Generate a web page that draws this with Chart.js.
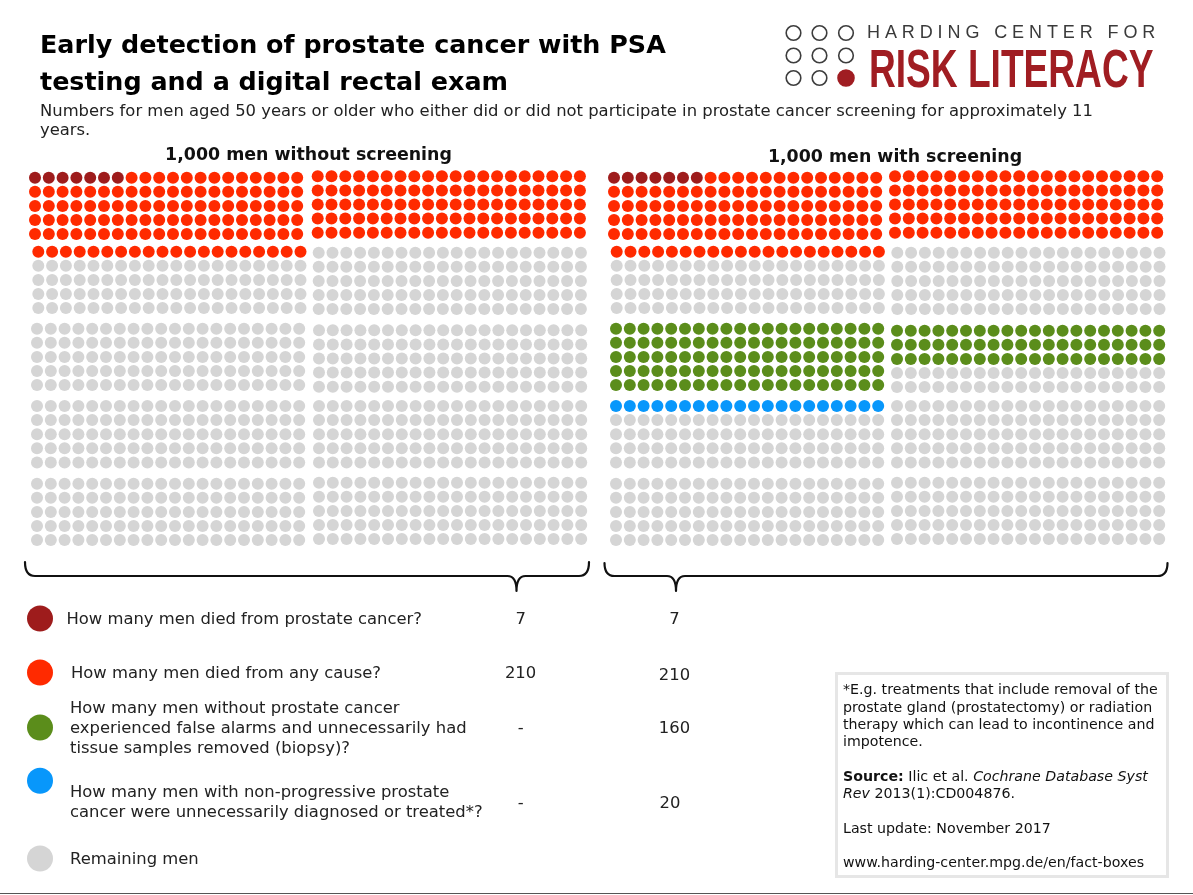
<!DOCTYPE html>
<html>
<head>
<meta charset="utf-8">
<script src="https://cdn.jsdelivr.net/npm/chart.js@4/dist/chart.umd.min.js"></script>
<style>
  html, body { margin:0; padding:0; background:#fff; }
  body { width:1193px; height:895px; position:relative; overflow:hidden; font-family:"DejaVu Sans", Verdana, sans-serif; color:#222; }
  #c { position:absolute; left:0; top:0; }
  .t { position:absolute; white-space:nowrap; }
  .title { left:40px; top:25.5px; font-weight:bold; font-size:25.4px; line-height:37px; color:#000; }
  .sub { left:40px; top:100.5px; font-size:16.4px; line-height:19px; color:#222; }
  .ph { font-weight:bold; font-size:17.4px; line-height:20px; width:400px; text-align:center; color:#111; }
  .lg { font-size:16.4px; line-height:20px; color:#222; }
  .val { font-size:16.4px; line-height:20px; width:80px; text-align:center; color:#222; }
  .box { position:absolute; left:835px; top:672px; width:328px; height:200px; border:3px solid #e6e6e6; }
  .note { left:843px; top:681.4px; font-size:14.2px; line-height:17.3px; color:#111; }
  .logo1 { left:867px; top:23px; font-family:"Liberation Sans", Arial, sans-serif; font-size:18px; line-height:18px; letter-spacing:4.9px; color:#3a3a3a; }
  .logo2 { left:869px; top:42px; font-family:"Liberation Sans", Arial, sans-serif; font-weight:bold; font-size:53px; line-height:53px; color:#a01d22; transform:scaleX(0.70); transform-origin:0 0; }
  .bottom { position:absolute; left:0; top:892.5px; width:1193px; height:1.5px; background:#555; }
</style>
</head>
<body>
<canvas id="c" width="1193" height="895"></canvas>

<div class="t title">Early detection of prostate cancer with PSA<br>testing and a digital rectal exam</div>
<div class="t sub">Numbers for men aged 50 years or older who either did or did not participate in prostate cancer screening for approximately 11<br>years.</div>
<div class="t ph" id="ph0" style="left:108.5px; top:144px;"></div>
<div class="t ph" id="ph1" style="left:695px; top:146px;"></div>

<div class="t logo1">HARDING CENTER FOR</div>
<div class="t logo2">RISK LITERACY</div>

<div id="legendText"></div>

<div class="box"></div>
<div class="t note">*E.g. treatments that include removal of the<br>prostate gland (prostatectomy) or radiation<br>therapy which can lead to incontinence and<br>impotence.<br><br><b>Source:</b> Ilic et al. <i>Cochrane Database Syst<br>Rev</i> 2013(1):CD004876.<br><br>Last update: November 2017<br><br>www.harding-center.mpg.de/en/fact-boxes</div>
<div class="bottom"></div>

<script>
// ---------------- DATA ----------------
const groups = ["1,000 men without screening", "1,000 men with screening"];
const categories = [
  "How many men died from prostate cancer?",
  "How many men died from any cause?",
  "How many men without prostate cancer\nexperienced false alarms and unnecessarily had\ntissue samples removed (biopsy)?",
  "How many men with non-progressive prostate\ncancer were unnecessarily diagnosed or treated*?",
  "Remaining men"
];
// values printed in the table
const reportedWithout = ["7", "210", "-", "-"];
const reportedWith    = ["7", "210", "160", "20"];
// dots as drawn in the icon arrays (dark red, red, green, blue); the rest are grey
const dotsWithout = [7, 213, 0, 0];
const dotsWith    = [7, 213, 160, 20];
const menPerGroup = 1000;

// ---------------- STYLE / LAYOUT ----------------
const colors = ["#9e1c1c", "#ff2a00", "#5b8d1b", "#0897fb", "#d5d5d5"];
// block where each category's dots begin (block = 20x5 dots; order: row-major over 2 columns)
const startBlock = [0, null, 4, 6];
const BLOCK_COLS = 20, BLOCK_ROWS = 5, DX = 13.8, DY = 14.1, DOT_R = 6;
const panelLayout = [
  { // without screening
    x: [[35, 317.7], [38.3, 318.7], [37, 319], [37, 319], [37, 319]],
    y: [[177.7, 176.3], [251.7, 252.7], [328.7, 330.3], [406, 406], [483.7, 482.7]]
  },
  { // with screening
    x: [[614, 895], [616.7, 897.3], [616, 897], [616, 897], [616, 897]],
    y: [[177.7, 176.3], [251.7, 252.7], [328.7, 330.7], [406, 406], [483.7, 482.7]]
  }
];

function dotPos(panel, idx) {
  const b = Math.floor(idx / 100), w = idx % 100;
  const br = Math.floor(b / 2), bc = b % 2;
  const r = Math.floor(w / BLOCK_COLS), c = w % BLOCK_COLS;
  const L = panelLayout[panel];
  return { x: L.x[br][bc] + c * DX, y: L.y[br][bc] + r * DY };
}

function colourIndex(counts) {
  const arr = new Array(menPerGroup).fill(4);
  let cursor = 0;
  counts.forEach((n, ci) => {
    if (startBlock[ci] !== null) cursor = Math.max(cursor, startBlock[ci] * 100);
    for (let k = 0; k < n; k++) arr[cursor + k] = ci;
    cursor += n;
  });
  return arr;
}

const datasets = [];
[dotsWithout, dotsWith].forEach((counts, p) => {
  const ci = colourIndex(counts);
  for (let cat = 0; cat < 5; cat++) {
    const pts = [];
    ci.forEach((v, i) => { if (v === cat) pts.push(dotPos(p, i)); });
    datasets.push({
      label: groups[p] + " - " + categories[cat],
      data: pts, pointRadius: DOT_R, pointHoverRadius: DOT_R,
      backgroundColor: colors[cat], borderWidth: 0, showLine: false
    });
  }
});

// legend markers
const legendY = [618.5, 672.5, 727.5, 780.8, 858.5];
datasets.push({
  label: "legend",
  data: legendY.map(y => ({ x: 40, y })),
  pointRadius: 13, pointHoverRadius: 13,
  pointBackgroundColor: colors, borderWidth: 0, showLine: false
});

// logo circles
const logoPts = [];
[793.5, 819.5, 846].forEach((x, i) => [33, 55.5, 78].forEach((y, j) => logoPts.push({ x, y, f: (i === 2 && j === 2) })));
datasets.push({
  label: "logo",
  data: logoPts,
  pointRadius: logoPts.map(p => p.f ? 8 : 7.3),
  pointBackgroundColor: logoPts.map(p => p.f ? "#a01d22" : "rgba(255,255,255,0)"),
  pointBorderColor: logoPts.map(p => p.f ? "#a01d22" : "#3d3d3d"),
  pointBorderWidth: 1.6, showLine: false
});

// braces
const braces = [
  { x0: 25, x1: 589, tip: 516.5, top: 562, line: 576, bottom: 591 },
  { x0: 604.5, x1: 1167.5, tip: 676, top: 563, line: 576, bottom: 591 }
];
const bracePlugin = {
  id: "braces",
  afterDatasetsDraw(chart) {
    const ctx = chart.ctx, xs = chart.scales.x, ys = chart.scales.y;
    ctx.save();
    ctx.strokeStyle = "#111"; ctx.lineWidth = 2.2; ctx.lineCap = "round"; ctx.lineJoin = "round";
    braces.forEach(b => {
      const X = v => xs.getPixelForValue(v), Y = v => ys.getPixelForValue(v);
      ctx.beginPath();
      ctx.moveTo(X(b.x0), Y(b.top));
      ctx.quadraticCurveTo(X(b.x0), Y(b.line), X(b.x0 + 10), Y(b.line));
      ctx.lineTo(X(b.tip - 9), Y(b.line));
      ctx.quadraticCurveTo(X(b.tip), Y(b.line), X(b.tip), Y(b.bottom));
      ctx.quadraticCurveTo(X(b.tip), Y(b.line), X(b.tip + 9), Y(b.line));
      ctx.lineTo(X(b.x1 - 10), Y(b.line));
      ctx.quadraticCurveTo(X(b.x1), Y(b.line), X(b.x1), Y(b.top));
      ctx.stroke();
    });
    ctx.restore();
  }
};

new Chart(document.getElementById("c"), {
  type: "scatter",
  data: { datasets },
  options: {
    responsive: false, animation: false, events: [],
    layout: { padding: 0, autoPadding: false },
    clip: false,
    scales: {
      x: { type: "linear", min: 0, max: 1193, display: false },
      y: { type: "linear", min: 0, max: 895, reverse: true, display: false }
    },
    plugins: { legend: { display: false }, tooltip: { enabled: false }, title: { display: false } }
  },
  plugins: [bracePlugin]
});

// ---------------- TEXT ----------------
document.getElementById("ph0").textContent = groups[0];
document.getElementById("ph1").textContent = groups[1];

const textLayout = [
  { x: 66.5, y: 619 }, { x: 71, y: 673.3 }, { x: 70, y: 728.3 }, { x: 70, y: 802.3 }, { x: 70, y: 859 }
];
const valLayout = [
  [{ x: 520.6, y: 619 }, { x: 674.5, y: 619 }],
  [{ x: 520.6, y: 673 }, { x: 674.5, y: 675 }],
  [{ x: 520.6, y: 728 }, { x: 674.5, y: 728 }],
  [{ x: 520.6, y: 803 }, { x: 670, y: 803 }]
];
const lt = document.getElementById("legendText");
categories.forEach((txt, i) => {
  const lines = txt.split("\n");
  const d = document.createElement("div");
  d.className = "t lg";
  d.style.left = textLayout[i].x + "px";
  d.style.top = (textLayout[i].y - lines.length * 10) + "px";
  d.innerHTML = lines.map(s => s.replace(/&/g, "&amp;")).join("<br>");
  lt.appendChild(d);
});
[reportedWithout, reportedWith].forEach((vals, g) => {
  vals.forEach((v, i) => {
    const d = document.createElement("div");
    d.className = "t val";
    d.style.left = (valLayout[i][g].x - 40) + "px";
    d.style.top = (valLayout[i][g].y - 10) + "px";
    d.textContent = v;
    lt.appendChild(d);
  });
});
</script>
</body>
</html>
